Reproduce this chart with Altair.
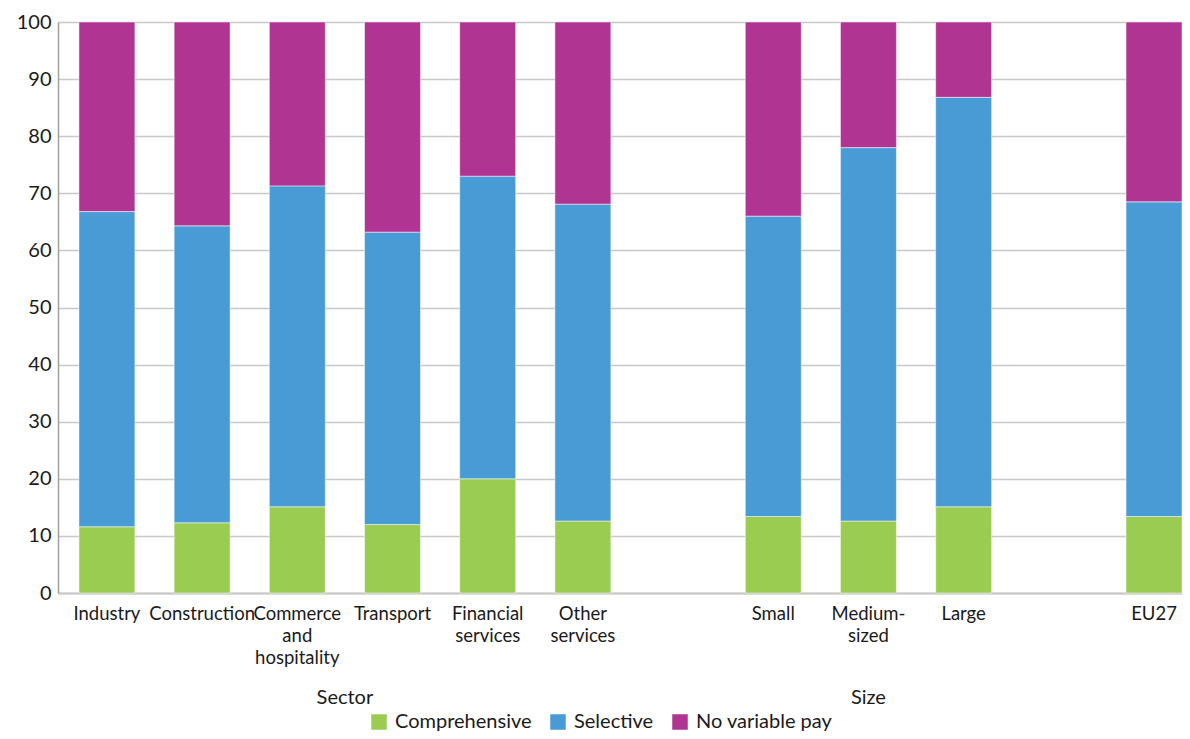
import altair as alt
import pandas as pd

# ---- data ----
categories = ["Industry", "Construction", "Commerce\nand\nhospitality", "Transport",
              "Financial\nservices", "Other\nservices", "Small", "Medium-\nsized",
              "Large", "EU27"]
comprehensive = [11.6, 12.3, 15.1, 12.0, 20.0, 12.6, 13.4, 12.6, 15.1, 13.4]
selective = [55.2, 52.0, 56.2, 51.2, 53.0, 55.5, 52.6, 65.4, 71.7, 55.1]
no_variable = [33.2, 35.7, 28.7, 36.8, 27.0, 31.9, 34.0, 22.0, 13.2, 31.5]

series = ["Comprehensive", "Selective", "No variable pay"]
colors = ["#9BCC52", "#489BD5", "#B03593"]

# slots on the x axis, with two empty gaps
x_domain = categories[:6] + [" "] + categories[6:9] + ["  "] + categories[9:]

group_titles = ["Sector", "Size"]

rows = []
for i, c in enumerate(categories):
    for k, (s, vals) in enumerate(zip(series, [comprehensive, selective, no_variable])):
        rows.append({"category": c, "series": s, "value": vals[i], "order": k})
df = pd.DataFrame(rows)

W, H = 1124, 571
FONT = "Lato"
P_IN, P_OUT = 0.412, 0.11

x_scale = alt.Scale(domain=x_domain, paddingInner=P_IN, paddingOuter=P_OUT, align=1.0)

bars = alt.Chart(df).mark_bar(stroke="white", strokeWidth=0.5).encode(
    x=alt.X("category:N", scale=x_scale, sort=x_domain,
            axis=alt.Axis(title=None, labelAngle=0, ticks=False, labelPadding=11,
                          labelFontSize=18.5, labelLineHeight=22, labelBaseline="top",
                          labelExpr="split(datum.value, '\\n')", labelOverlap=False,
                          labelLimit=300, domainColor="#C8C8C8", domainWidth=2,
                          labelColor="#1a1a1a", labelFont=FONT, grid=False)),
    y=alt.Y("value:Q", stack="zero", scale=alt.Scale(domain=[0, 100], nice=False),
            axis=alt.Axis(title=None, values=list(range(0, 101, 10)), ticks=False,
                          labelPadding=7, labelFontSize=20, labelColor="#1a1a1a",
                          labelFont=FONT, gridColor="#C8C8C8", gridWidth=1.5,
                          domainColor="#A0A0A0", domainWidth=1.5)),
    color=alt.Color("series:N", scale=alt.Scale(domain=series, range=colors),
                    legend=alt.Legend(title=None, orient="none", direction="horizontal",
                                      legendX=311, legendY=690, symbolType="square",
                                      symbolSize=240, symbolStrokeWidth=0,
                                      labelFontSize=20, labelFont=FONT,
                                      labelColor="#1a1a1a", labelOffset=6,
                                      columnPadding=16, labelLimit=300)),
    order=alt.Order("order:Q", sort="ascending"),
)

step = W / (12 - P_IN + 2 * P_OUT)

sector_title = alt.Chart(pd.DataFrame({"t": [group_titles[0]], "c": [categories[3]]})).mark_text(
    fontSize=20, font=FONT, color="#1a1a1a", baseline="middle", dx=-step / 2
).encode(x=alt.X("c:N", scale=x_scale, sort=x_domain), y=alt.value(H + 105), text="t:N")

size_title = alt.Chart(pd.DataFrame({"t": [group_titles[1]], "c": [categories[7]]})).mark_text(
    fontSize=20, font=FONT, color="#1a1a1a", baseline="middle"
).encode(x=alt.X("c:N", scale=x_scale, sort=x_domain), y=alt.value(H + 105), text="t:N")

chart = alt.layer(bars, sector_title, size_title).properties(
    width=W, height=H,
    autosize=alt.AutoSizeParams(type="none"),
    padding={"left": 50, "top": 14, "right": 0, "bottom": 138},
).configure_view(stroke=None).configure(font=FONT)

chart.save("out.html", embed_options={"renderer": "svg", "actions": False})
